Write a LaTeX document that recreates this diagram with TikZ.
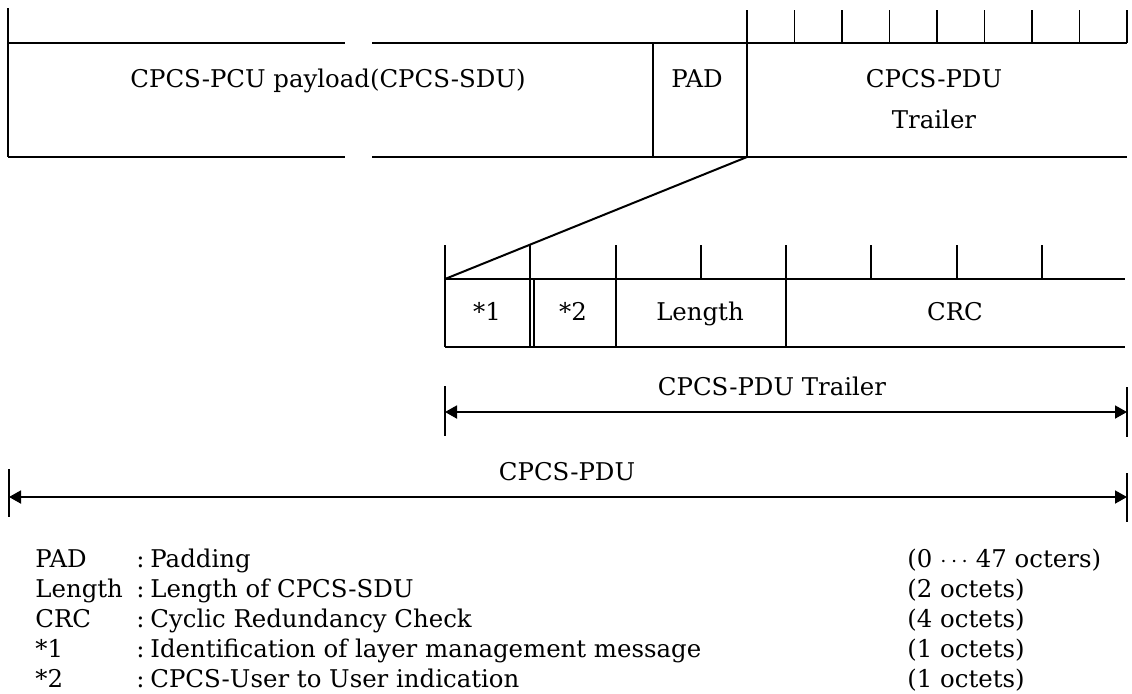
\documentclass[tikz,border=0pt]{standalone}
\usepackage{fontspec}
\setmainfont{DejaVu Serif}
\usetikzlibrary{arrows.meta,positioning,calc}

\begin{document}
\begin{tikzpicture}[
    x=0.5pt, y=-0.5pt,
    font=\fontsize{12.2pt}{15pt}\selectfont,
    >={Triangle[length=6pt,width=6.5pt]},
    frameLine/.style={
        line width=1pt,
        draw=black
    },
    tickLine/.style={
        line width=0.9pt,
        draw=black
    },
    dimLine/.style={
        line width=0.9pt,
        draw=black,
        <->
    },
    fieldText/.style={
        inner sep=0pt,
        anchor=base
    },
    legendText/.style={
        inner sep=0pt,
        anchor=base west
    }
]
\useasboundingbox (0,0) rectangle (1132,693);

% ==================== CPCS-PDU ====================
\draw[frameLine] (8,8) -- (8,157);
\draw[frameLine] (8,43) -- (345,43);
\draw[frameLine] (372,43) -- (1127,43);
\draw[frameLine] (8,157) -- (345,157);
\draw[frameLine] (372,157) -- (1127,157);
\draw[frameLine] (653,43) -- (653,157);
\draw[frameLine] (747,10) -- (747,157);
\foreach \x in {794.5,842,889.5,937,984.5,1032,1079.5,1127}
    \draw[tickLine] (\x,10) -- (\x,43);

\node[fieldText] (payload) at (328,87) {CPCS-PCU payload(CPCS-SDU)};
\node[fieldText] (pad) at (697,87) {PAD};
\node[fieldText] (trailerTop) at (934,87) {CPCS-PDU};
\node[fieldText] (trailerBot) at (934,128) {Trailer};

% ==================== TRAILER DETAIL ====================
\coordinate (trlCorner) at (747,157);
\coordinate (detCorner) at (445,279);
\draw[frameLine] (trlCorner) -- (detCorner);
\draw[frameLine] (445,279) -- (1125,279);
\draw[frameLine] (445,347) -- (1125,347);
\foreach \x in {445,530,616,786}
    \draw[frameLine] (\x,245) -- (\x,347);
\draw[frameLine] (533.5,279) -- (533.5,347);
\foreach \x in {701,871,957,1042}
    \draw[tickLine] (\x,245) -- (\x,279);

\node[fieldText] (uui) at (487,320) {*1};
\node[fieldText] (cpi) at (573,320) {*2};
\node[fieldText] (lenField) at (700,320) {Length};
\node[fieldText] (crcField) at (955,320) {CRC};

% ==================== LENGTH ARROWS ====================
\draw[tickLine] (445,386) -- (445,436);
\draw[tickLine] (1127,387) -- (1127,437);
\coordinate (trlLeft) at (445,412);
\coordinate (trlRight) at (1127,412);
\draw[dimLine] (trlLeft) -- (trlRight);
\node[fieldText] (trlLabel) at (772,395) {CPCS-PDU Trailer};

\draw[tickLine] (9,469) -- (9,517);
\draw[tickLine] (1127,473) -- (1127,522);
\coordinate (pduLeft) at (9,497);
\coordinate (pduRight) at (1127,497);
\draw[dimLine] (pduLeft) -- (pduRight);
\node[fieldText] (pduLabel) at (567,480) {CPCS-PDU};

% ==================== LEGEND ====================
\node[legendText] (keyPad) at (35,567) {PAD};
\node[legendText] (colPad) at (136,567) {:};
\node[legendText] (descPad) at (150,567) {Padding};
\node[legendText] (sizePad) at (907,567) {(0 $\cdots$ 47 octers)};

\node[legendText] (keyLen) at (35,597) {Length};
\node[legendText] (colLen) at (136,597) {:};
\node[legendText] (descLen) at (150,597) {Length of CPCS-SDU};
\node[legendText] (sizeLen) at (907,597) {(2 octets)};

\node[legendText] (keyCrc) at (35,627) {CRC};
\node[legendText] (colCrc) at (136,627) {:};
\node[legendText] (descCrc) at (150,627) {Cyclic Redundancy Check};
\node[legendText] (sizeCrc) at (907,627) {(4 octets)};

\node[legendText] (keyOne) at (35,657) {*1};
\node[legendText] (colOne) at (136,657) {:};
\node[legendText] (descOne) at (150,657) {Identification of layer management message};
\node[legendText] (sizeOne) at (907,657) {(1 octets)};

\node[legendText] (keyTwo) at (35,687) {*2};
\node[legendText] (colTwo) at (136,687) {:};
\node[legendText] (descTwo) at (150,687) {CPCS-User to User indication};
\node[legendText] (sizeTwo) at (907,687) {(1 octets)};

\end{tikzpicture}
\end{document}
